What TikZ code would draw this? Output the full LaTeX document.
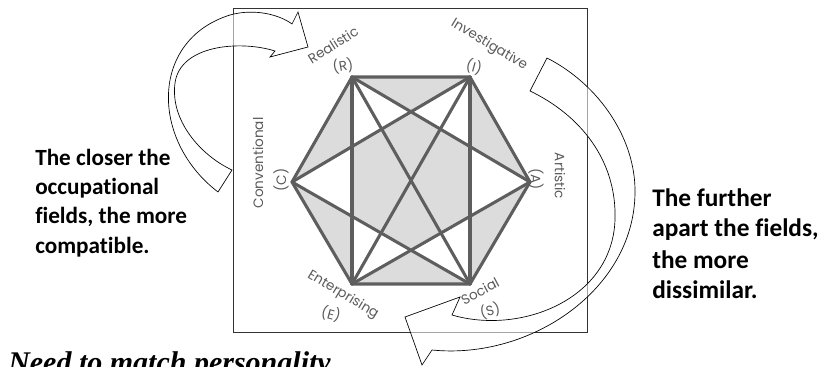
\documentclass[tikz,border=0pt]{standalone}
\usepackage{fontspec}
\setmainfont{Carlito}[Ligatures={NoCommon}]
\newfontfamily\geo{Poppins}
\newfontfamily\tnr{Liberation Serif}
\definecolor{hexgray}{HTML}{5E5E5E}
\definecolor{fillgray}{HTML}{DCDCDC}
\definecolor{lblgray}{HTML}{5A5A5A}
\definecolor{framecol}{HTML}{333333}
\begin{document}
\begin{tikzpicture}[x=0.75pt,y=-0.75pt,
  hexline/.style={draw=hexgray, line width=2.3pt, line cap=round, line join=round},
  lbl/.style={font=\geo\fontsize{10.2}{11}\selectfont, text=lblgray, inner sep=0pt},
  lefttext/.style={font=\bfseries\fontsize{17.4}{20}\selectfont, inner sep=0pt, anchor=base west},
  righttext/.style={font=\bfseries\fontsize{19}{22}\selectfont, inner sep=0pt, anchor=base west},
  curvearrow/.style={draw=black, line width=0.5pt, fill=white, fill opacity=0.55, line join=miter}]
\useasboundingbox (0,0) rectangle (829,367);
% frame
\draw[framecol, line width=0.7pt] (233,8) rectangle (587,332);
% hexagon vertices
\coordinate (R) at (352,77);
\coordinate (I) at (470,77);
\coordinate (A) at (530,182);
\coordinate (S) at (470,284);
\coordinate (E) at (352,284);
\coordinate (C) at (292,182);
% fill
\fill[fillgray] (R) -- (I) -- (A) -- (S) -- (E) -- (C) -- cycle;
\coordinate (p1) at (intersection of R--E and I--C);
\coordinate (p2) at (intersection of R--A and I--C);
\coordinate (p3) at (intersection of I--S and R--A);
\coordinate (p4) at (intersection of R--E and S--C);
\coordinate (p5) at (intersection of E--A and S--C);
\coordinate (p6) at (intersection of I--S and E--A);
\fill[white] (R) -- (p1) -- (p2) -- cycle;
\fill[white] (I) -- (p3) -- (p2) -- cycle;
\fill[white] (E) -- (p4) -- (p5) -- cycle;
\fill[white] (S) -- (p6) -- (p5) -- cycle;
\fill[white] (C) -- (p1) -- (p4) -- cycle;
\fill[white] (A) -- (p3) -- (p6) -- cycle;
% lines
\draw[hexline] (R) -- (I) -- (A) -- (S) -- (E) -- (C) -- cycle;
\draw[hexline] (R) -- (E);
\draw[hexline] (I) -- (S);
\draw[hexline] (R) -- (S);
\draw[hexline] (I) -- (E);
\draw[hexline] (R) -- (A);
\draw[hexline] (I) -- (C);
\draw[hexline] (C) -- (S);
\draw[hexline] (A) -- (E);
% curved arrows
\path[curvearrow] (218,192) .. controls (150,140) and (150,40) .. (230,15)
  .. controls (255,8) and (280,15) .. (292,24) -- (298,12) -- (308,47) -- (270,57) -- (275,51)
  .. controls (240,40) and (180,45) .. (175,83)
  .. controls (170,120) and (200,155) .. (232,170) -- cycle;
\path[curvearrow] (530,91) -- (547,58) .. controls (600,85) and (636,140) .. (635,193)
  .. controls (634,290) and (530,360) .. (432,350) -- (422,365) -- (405,317) -- (460,297) -- (452,315)
  .. controls (520,335) and (612,300) .. (615,220)
  .. controls (617,160) and (580,115) .. (530,91) -- cycle;
% labels
\node[lbl, rotate=32] (lR) at (333,45) {Realistic};
\node[lbl, rotate=10] (lR2) at (343,66) {(R)};
\node[lbl, rotate=-31] (lI) at (489,45) {Investigative};
\node[lbl, rotate=-15] (lI2) at (474,67) {(I)};
\node[lbl, rotate=90] (lC) at (258,163) {Conventional};
\node[lbl, rotate=90] (lC2) at (281,180) {(C)};
\node[lbl, rotate=-90] (lA) at (560,176) {Artistic};
\node[lbl, rotate=-90] (lA2) at (536,179) {(A)};
\node[lbl, rotate=-31] (lE) at (343,295) {Enterprising};
\node[lbl, rotate=-15] (lE2) at (331,314) {(E)};
\node[lbl, rotate=28] (lS) at (480,291) {Social};
\node[lbl, rotate=15] (lS2) at (490,311) {(S)};
% texts
\node[lefttext] (t1) at (35,166) {The closer the};
\node[lefttext] (t2) at (35,195) {occupational};
\node[lefttext] (t3) at (35,224) {fields, the more};
\node[lefttext] (t4) at (35,253) {compatible.};
\node[righttext] (u1) at (652,207) {The further};
\node[righttext] (u2) at (652,237) {apart the fields,};
\node[righttext] (u3) at (652,268) {the more};
\node[righttext] (u4) at (652,299) {dissimilar.};
\node[font=\tnr\bfseries\itshape\fontsize{22.5}{26}\selectfont, inner sep=0pt, anchor=base west] (title) at (8,373) {Need to match personality};
\end{tikzpicture}
\end{document}
